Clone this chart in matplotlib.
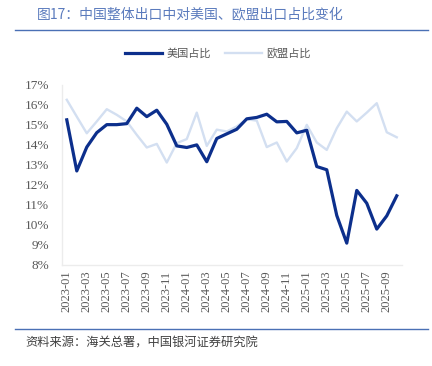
import matplotlib.pyplot as plt
import numpy as np

plt.rcParams['font.family'] = ['Noto Sans CJK SC', 'DejaVu Sans']

# monthly data, 2023-01 .. 2025-10 (share of China's total exports, %)
months = [f"{y}-{m:02d}" for y in (2023, 2024, 2025) for m in range(1, 13)][:34]
us_share = [15.24, 12.69, 13.88, 14.60, 15.00, 15.00, 15.05, 15.82, 15.40, 15.72,
            15.02, 13.94, 13.86, 13.99, 13.15, 14.31, 14.54, 14.77, 15.29, 15.36,
            15.52, 15.14, 15.16, 14.59, 14.72, 12.91, 12.75, 10.47, 9.09, 11.72,
            11.08, 9.79, 10.45, 11.45]
eu_share = [16.24, 15.40, 14.57, 15.16, 15.77, 15.49, 15.16, 14.49, 13.86, 14.04,
            13.11, 14.08, 14.28, 15.60, 13.94, 14.75, 14.66, 14.91, 15.27, 15.20,
            13.88, 14.11, 13.16, 13.83, 14.99, 14.11, 13.74, 14.82, 15.65, 15.16,
            15.60, 16.07, 14.62, 14.37]
yticks = list(range(8, 18))

fig = plt.figure(figsize=(4.32, 3.66), dpi=100)
ax = fig.add_axes([0.143, 0.276, 0.787, 0.493])

x = np.arange(len(months))
ax.plot(x, eu_share, color="#d3dff1", lw=1.7, label="欧盟占比", zorder=2)
ax.plot(x, us_share, color="#0c2f8c", lw=2.3, label="美国占比", zorder=3)

ax.set_xlim(-0.5, len(months) - 0.5)
ax.set_ylim(8, 17)
ax.set_yticks(yticks)
ax.set_yticklabels([f"{v}%" for v in yticks], family="Liberation Serif",
                   fontsize=9.5, color="#595959")
ax.set_xticks(x[::2])
ax.set_xticklabels(months[::2], rotation=90, family="Liberation Serif",
                   fontsize=9, color="#595959")
ax.tick_params(length=0)
ax.tick_params(axis="y", pad=9)
ax.tick_params(axis="x", pad=4)
for s in ("top", "right"):
    ax.spines[s].set_visible(False)
for s in ("left", "bottom"):
    ax.spines[s].set_color("#ececec")
    ax.spines[s].set_linewidth(1.0)

handles, labels = ax.get_legend_handles_labels()
fig.legend(handles[::-1], labels[::-1], loc="center", bbox_to_anchor=(0.505, 0.855),
           ncol=2, frameon=False, fontsize=8, handlelength=3.3, columnspacing=1.3,
           handletextpad=0.4, labelcolor="#595959")

fig.text(0.085, 0.962, "图17：中国整体出口中对美国、欧盟出口占比变化", fontsize=10,
         color="#5b7bbd", va="center")
fig.add_artist(plt.Line2D([0.035, 0.99], [0.918, 0.918], color="#4a70b5", lw=1.0))
fig.add_artist(plt.Line2D([0.035, 0.99], [0.101, 0.101], color="#4a70b5", lw=1.0))
fig.text(0.058, 0.063, "资料来源：海关总署，中国银河证券研究院", fontsize=8.8,
         color="#404040", va="center", style="italic")

fig.savefig("out.png", dpi=100)
